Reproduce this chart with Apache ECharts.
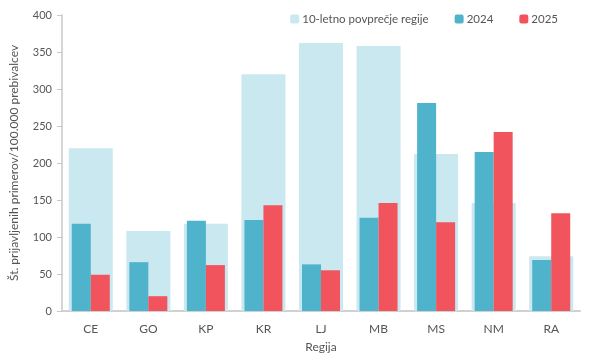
<!DOCTYPE html>
<html><head><meta charset="utf-8">
<script src="https://cdn.jsdelivr.net/npm/echarts@6/dist/echarts.min.js"></script>
<style>html,body{margin:0;padding:0;background:#fff}#c{width:594px;height:364px}</style>
</head><body><div id="c"></div>
<script>
const categories = ['CE','GO','KP','KR','LJ','MB','MS','NM','RA'];
const avg10 = [220,108,118,320,362,358,212,146,74];
const y2024 = [118,66,122,123,63,126,281,215,69];
const y2025 = [49,20,62,143,55,146,120,242,132];
const yTicks = [0,50,100,150,200,250,300,350,400];

const font = 'Lato, "Open Sans", sans-serif';
const txt = '#555';
const chart = echarts.init(document.getElementById('c'));
chart.setOption({
  animation:false,
  textStyle:{fontFamily:font},
  grid:{left:60,right:14,top:15,bottom:53},
  legend:{
    top:8,right:31,itemWidth:9,itemHeight:9,itemGap:26,
    textStyle:{fontFamily:font,fontSize:11.5,color:txt,padding:[0,0,0,-2]},
    data:['10-letno povprečje regije','2024','2025']
  },
  xAxis:[{
    type:'category',data:categories,
    name:'Regija',nameLocation:'middle',nameGap:30,
    nameTextStyle:{fontFamily:font,fontSize:12,color:txt},
    axisLine:{lineStyle:{color:'#d0d0d0',width:2}},
    axisTick:{show:false},
    axisLabel:{fontFamily:font,fontSize:12,color:txt,margin:12}
  },{
    type:'category',data:categories,show:false
  }],
  yAxis:{
    type:'value',min:yTicks[0],max:yTicks[yTicks.length-1],interval:50,
    name:'Št. prijavljenih primerov/100.000 prebivalcev',nameLocation:'middle',nameGap:42,
    nameTextStyle:{fontFamily:font,fontSize:12,color:txt},
    axisLine:{show:true,lineStyle:{color:'#c8c8c8',width:1.5}},
    axisTick:{show:true,length:5,lineStyle:{color:'#c8c8c8'}},
    splitLine:{show:false},
    axisLabel:{fontFamily:font,fontSize:11,color:txt,margin:10}
  },
  series:[
    {name:'10-letno povprečje regije',type:'bar',xAxisIndex:1,data:avg10,barWidth:44,
     itemStyle:{color:'#cae8ef'},z:1},
    {name:'2024',type:'bar',xAxisIndex:0,data:y2024,barWidth:19,barGap:'0%',
     itemStyle:{color:'#4fb3cb'},z:2},
    {name:'2025',type:'bar',xAxisIndex:0,data:y2025,barWidth:19,barGap:'0%',
     itemStyle:{color:'#f1545d'},z:2}
  ]
});
</script></body></html>
